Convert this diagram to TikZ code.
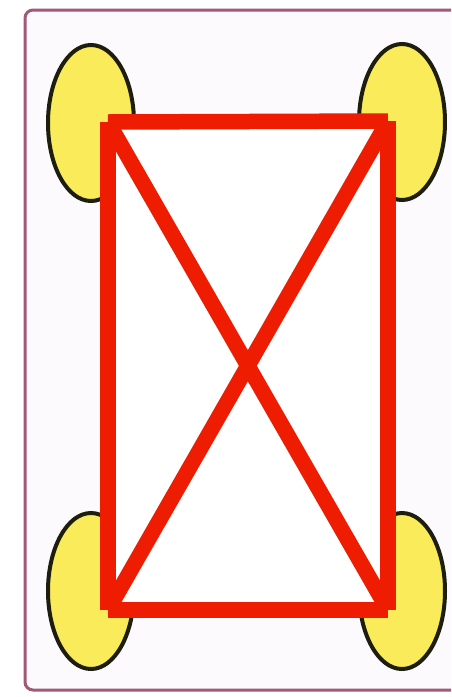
\documentclass[tikz,border=0pt]{standalone}
\usetikzlibrary{shapes.geometric}
\definecolor{frameedge}{RGB}{160,90,120}
\definecolor{framefill}{RGB}{252,250,252}
\definecolor{ballfill}{RGB}{250,235,90}
\definecolor{balledge}{RGB}{30,30,15}
\definecolor{xred}{RGB}{238,28,0}
\tikzset{
  ball/.style={ellipse, draw=balledge, line width=4pt, fill=ballfill,
    minimum width=86pt, minimum height=156pt, inner sep=0pt},
  redline/.style={draw=xred, line width=15.5pt, line cap=butt}
}
\begin{document}
\begin{tikzpicture}[x=1pt,y=-1pt]
\useasboundingbox (0,0) rectangle (451,697);
\fill[white] (0,0) rectangle (451,697);
\begin{scope}
\clip (0,0) rectangle (451,697);
\draw[frameedge, fill=framefill, line width=3pt, rounded corners=8pt] (25,10) rectangle (470,690);
\end{scope}
\node[ball] (tl) at (91,123) {};
\node[ball] (tr) at (402,122) {};
\node[ball] (bl) at (91,591) {};
\node[ball] (br) at (402,591) {};
\coordinate (a) at (108,122);
\coordinate (b) at (388,121);
\coordinate (c) at (388,610);
\coordinate (d) at (108,610);
\fill[white] (115,129) rectangle (381,603);
\draw[redline] (a) -- (b);
\draw[redline] (b) -- (c);
\draw[redline] (c) -- (d);
\draw[redline] (d) -- (a);
\draw[redline] (a) -- (c);
\draw[redline] (b) -- (d);
\end{tikzpicture}
\end{document}
